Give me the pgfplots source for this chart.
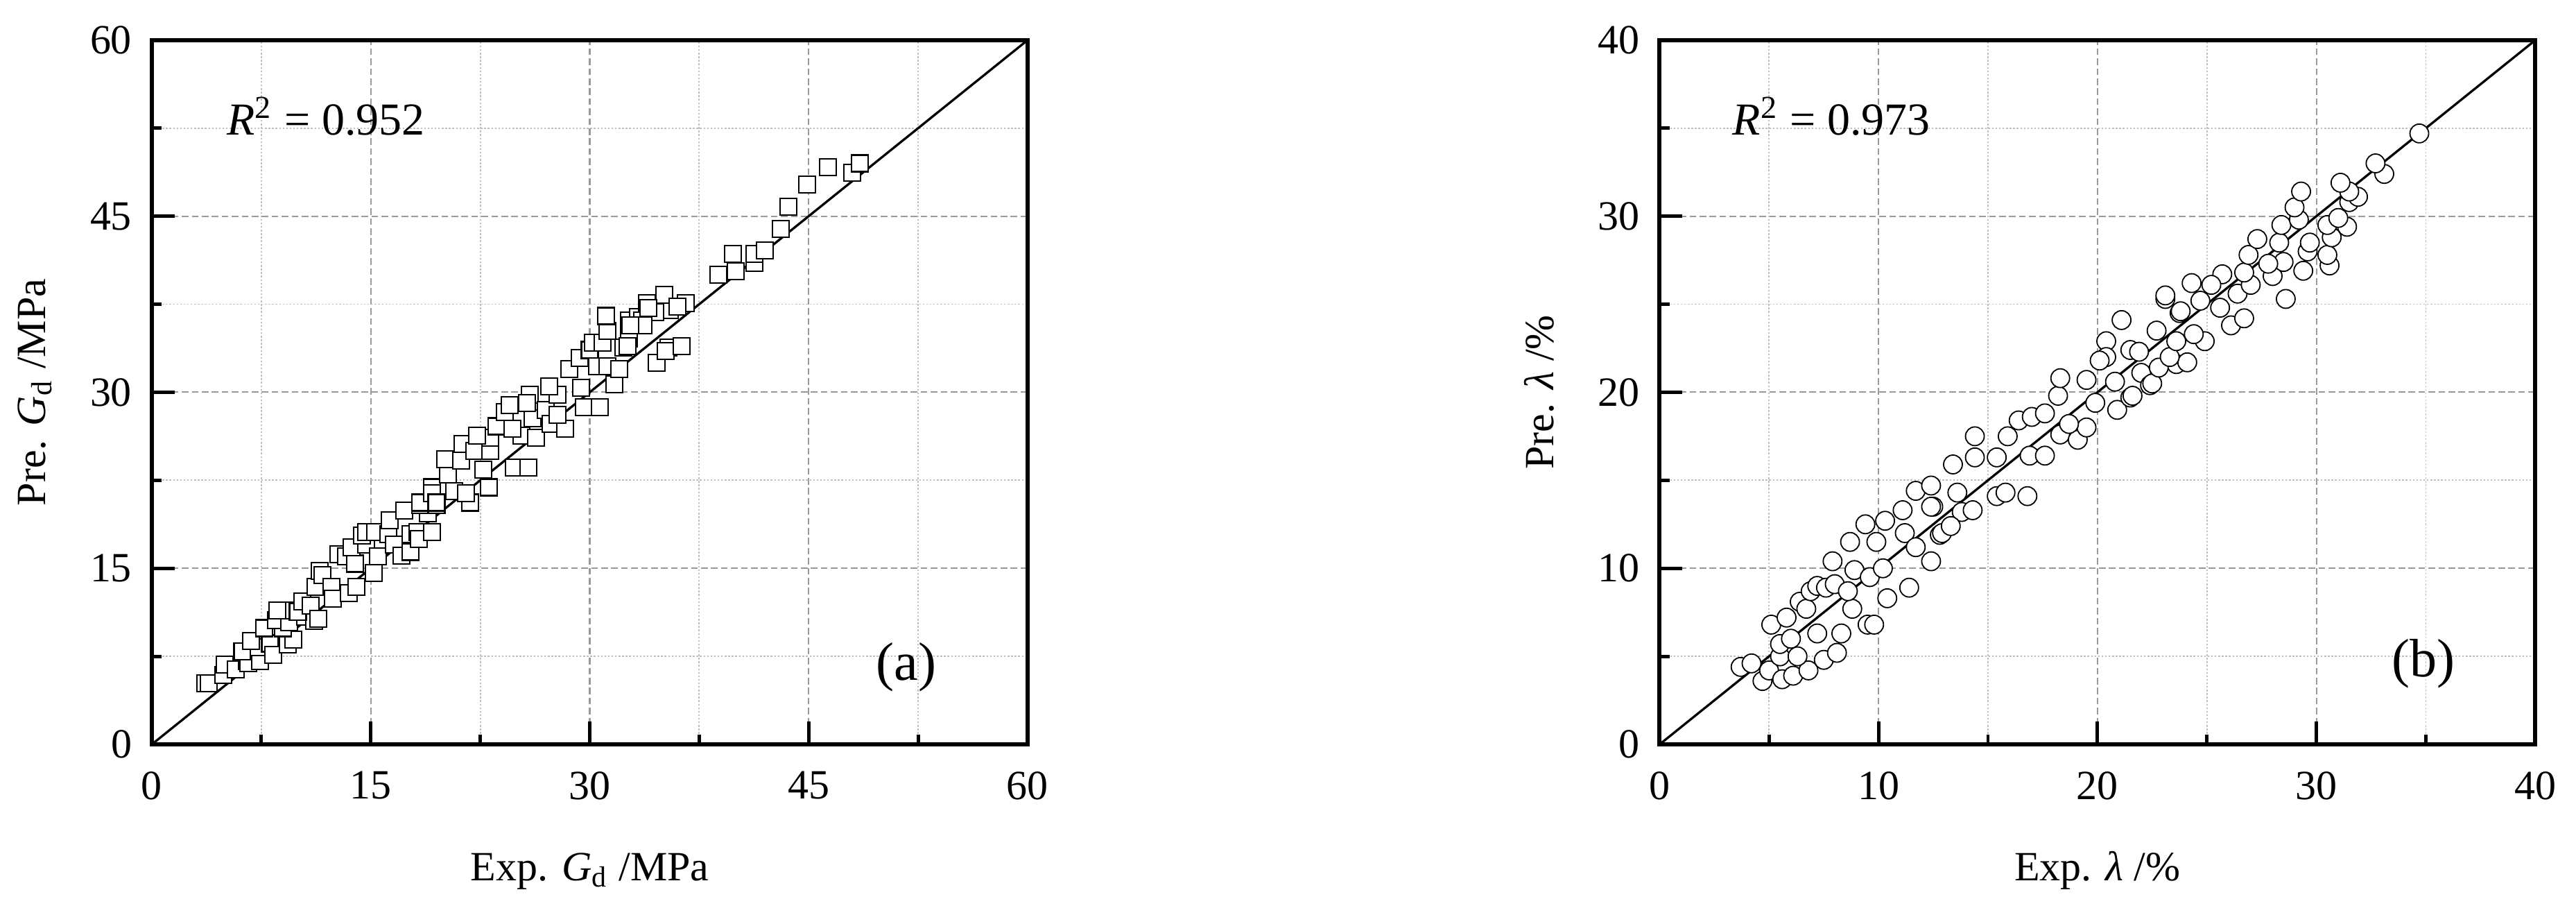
\documentclass[border=0pt]{standalone}
\usepackage{fontspec}
\setmainfont{Liberation Serif}
\usepackage{pgfplots}
\pgfplotsset{compat=1.18}

\pgfplotsset{
  common/.style={
    scale only axis,
    width=210.5pt, height=169.2pt,
    anchor=south west,
    axis line style={line width=1pt},
    tick align=inside, tick pos=left,
    major tick length=5.5pt, minor tick length=2.4pt,
    every tick/.style={black, line width=0.8pt},
    minor tick num=1,
    grid=both,
    major grid style={gray!80, line width=0.35pt, dash pattern=on 1.6pt off 0.8pt},
    minor grid style={gray!50, line width=0.3pt, dash pattern=on 0.4pt off 0.45pt},
    /pgf/number format/assume math mode=true,
    ticklabel style={font=\fontsize{10}{12}\selectfont},
    xticklabel style={yshift=-3pt},
    yticklabel style={xshift=-1.3pt},
    label style={font=\fontsize{11}{13}\selectfont},
    every axis x label/.style={at={(axis description cs:0.5,0)}, anchor=base, yshift=-32.8pt},
    every axis y label/.style={at={(axis description cs:0,0.5)}, xshift=-25.5pt, rotate=90, anchor=base},
  },
}

\begin{document}
\begin{tikzpicture}
\begin{axis}[common, at={(36.5pt,40.83pt)},
  xmin=0, xmax=60, ymin=0, ymax=60,
  xtick={0,15,...,60}, ytick={0,15,...,60},
  xlabel={Exp. \textit{G}\textsubscript{d} /MPa},
  ylabel={Pre. \textit{G}\textsubscript{d} /MPa}]
\addplot[only marks, mark=square*, mark size=2pt,
  mark options={fill=white, draw=black, line width=0.35pt}] table {
x y
3.65 5.2
3.9 5.2
4.9 5.9
5.0 6.8
5.75 6.4
6.5 7.1
6.6 6.9
7.4 7.1
6.2 7.9
7.3 8.3
6.8 8.8
8.1 8.6
8.3 7.6
9.3 8.5
9.7 8.9
7.7 9.9
9.0 9.9
8.5 10.6
9.4 10.4
10.5 10.9
11.1 10.5
9.3 11.4
8.6 11.4
10.0 11.3
10.3 12.2
10.9 11.8
11.4 10.7
11.2 13.4
11.5 14.8
11.7 14.4
12.3 13.4
12.4 12.4
13.5 12.9
14.0 13.4
12.8 16.2
13.3 16.0
13.9 15.4
15.2 14.6
13.7 16.8
14.7 17.0
15.5 16.0
14.4 17.8
14.7 18.1
15.3 18.1
16.2 17.9
16.6 17.0
16.3 19.1
17.1 16.1
17.7 17.9
17.7 16.4
18.2 18.1
18.3 17.5
17.3 19.9
18.9 19.7
18.4 20.4
19.5 20.4
19.2 21.9
19.2 18.1
18.4 20.6
19.2 21.4
19.5 20.6
20.7 21.6
21.8 20.6
20.3 23.0
20.1 24.3
21.2 24.2
21.3 25.6
21.5 21.4
22.1 25.0
23.1 21.9
22.7 23.4
23.2 25.0
23.2 26.1
22.3 26.3
23.6 27.1
24.8 23.6
25.8 23.6
25.3 26.3
26.3 26.1
26.1 27.8
24.7 26.9
24.2 28.3
24.5 28.9
25.9 29.8
25.7 29.1
27.0 28.5
27.3 27.3
28.3 26.9
27.8 29.8
27.8 28.1
27.2 30.5
28.6 32.0
29.4 30.4
29.6 28.7
30.7 28.7
29.3 32.9
30.0 33.6
30.5 32.2
30.2 34.2
30.9 34.2
31.2 35.2
31.2 32.2
31.7 30.7
32.0 32.0
32.3 33.8
32.7 34.6
31.1 36.5
32.7 36.1
33.3 36.4
33.6 36.1
34.3 37.2
33.9 37.6
34.6 32.5
35.4 33.8
35.5 37.0
35.1 38.3
36.6 37.6
36.0 37.3
34.5 36.8
34.0 37.2
33.7 35.7
32.8 35.7
35.2 33.5
36.3 33.9
32.6 33.9
38.8 40.0
39.8 41.8
40.0 40.3
41.3 41.0
41.3 41.8
42.0 42.1
43.1 43.9
43.6 45.8
44.9 47.7
46.3 49.2
48.0 48.7
48.5 49.5
};
\addplot[black, line width=0.55pt] coordinates {(0,0) (60,60)};
\node[anchor=west, inner sep=0pt, font=\fontsize{11}{13}\selectfont] at (axis cs:5.1,53.5) {\textit{R}\textsuperscript{2} = 0.952};
\node[font=\fontsize{13}{15}\selectfont] at (axis cs:51.7,6.6) {(a)};
\end{axis}

\begin{axis}[common, at={(398.9pt,40.83pt)},
  xmin=0, xmax=40, ymin=0, ymax=40,
  xtick={0,10,...,40}, ytick={0,10,...,40},
  xlabel={Exp. \textit{λ} /\%},
  ylabel={Pre. \textit{λ} /\%}]
\addplot[only marks, mark=*, mark size=2.25pt,
  mark options={fill=white, draw=black, line width=0.3pt}] table {
x y
3.7 4.4
4.2 4.6
4.7 3.6
5.0 4.2
5.6 3.7
6.1 3.9
6.8 4.2
5.5 5.0
6.3 5.0
7.5 4.8
8.1 5.2
5.1 6.8
5.8 7.2
5.5 5.7
6.0 6.0
6.4 8.1
6.7 7.7
7.2 6.3
8.3 6.3
8.8 7.7
6.9 8.7
7.2 9.0
7.6 8.9
8.0 9.1
8.6 8.7
9.5 6.8
9.8 6.8
10.4 8.3
11.4 8.9
7.9 10.4
8.7 11.5
8.9 9.9
9.6 9.5
10.2 10.0
9.4 12.5
9.9 11.5
10.3 12.7
11.1 13.3
11.2 12.0
11.7 11.2
12.4 10.4
12.5 13.5
12.8 11.9
11.7 14.4
12.4 14.7
13.6 14.3
13.8 13.2
12.9 12.0
12.4 13.5
13.4 15.9
14.3 13.3
13.3 12.4
14.4 17.5
14.4 16.3
15.4 16.3
15.4 14.1
15.8 14.3
16.8 14.1
15.9 17.5
16.9 16.4
17.6 16.4
16.4 18.4
17.0 18.6
17.6 18.8
18.3 17.6
19.1 17.3
19.5 18.0
18.7 18.2
18.2 19.8
18.3 20.8
19.5 20.7
19.9 19.4
20.9 19.0
21.5 19.7
20.8 20.6
20.4 22.9
20.4 22.0
20.1 21.8
21.1 24.1
21.5 22.4
22.0 21.1
22.4 20.4
22.7 23.5
23.3 21.9
23.6 21.6
23.1 25.3
23.75 24.5
21.9 22.3
21.6 19.8
22.5 20.5
22.8 21.4
24.1 21.7
23.3 22.0
23.6 22.9
24.9 22.9
24.4 23.3
23.8 24.6
26.1 23.8
26.7 24.2
26.4 25.6
25.6 24.8
24.7 25.2
25.7 26.7
23.1 25.5
25.2 26.1
24.3 26.2
28.6 25.3
27.0 26.1
26.7 26.8
28.0 26.6
28.5 27.4
27.8 27.3
26.9 27.8
28.3 28.5
27.3 28.7
29.4 26.9
30.6 27.2
30.5 27.8
29.6 28.0
29.7 28.5
30.7 28.8
30.5 29.5
31.4 29.4
31.0 29.9
28.4 29.5
29.2 29.8
29.0 30.5
29.3 31.4
31.5 30.8
31.9 31.1
31.5 31.4
31.1 31.9
33.1 32.4
32.7 33.0
34.7 34.7
};
\addplot[black, line width=0.55pt] coordinates {(0,0) (40,40)};
\node[anchor=west, inner sep=0pt, font=\fontsize{11}{13}\selectfont] at (axis cs:3.3,35.66) {\textit{R}\textsuperscript{2} = 0.973};
\node[font=\fontsize{13}{15}\selectfont] at (axis cs:34.9,4.6) {(b)};
\end{axis}
\pgfresetboundingbox
\path (0,0) rectangle (619.17pt,219.67pt);
\end{tikzpicture}
\end{document}
